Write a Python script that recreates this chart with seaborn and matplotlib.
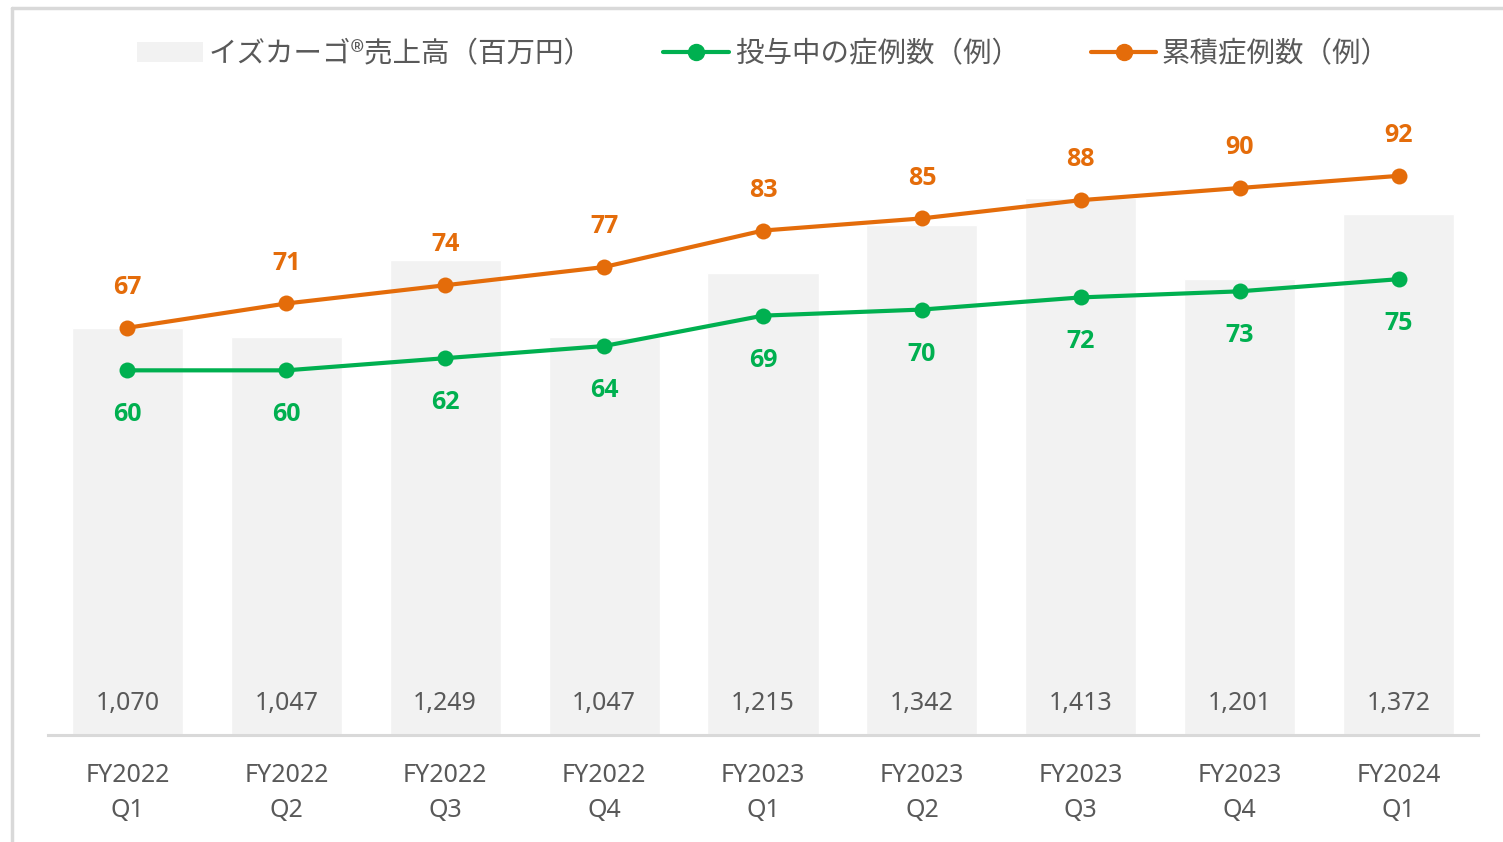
import numpy as np
import pandas as pd
import seaborn as sns
import matplotlib.pyplot as plt
from matplotlib.patches import Patch
from matplotlib.lines import Line2D

# ------------------------------------------------
# Data
# ------------------------------------------------
quarters = ["FY2022\nQ1", "FY2022\nQ2", "FY2022\nQ3", "FY2022\nQ4",
            "FY2023\nQ1", "FY2023\nQ2", "FY2023\nQ3", "FY2023\nQ4",
            "FY2024\nQ1"]
sales = [1070, 1047, 1249, 1047, 1215, 1342, 1413, 1201, 1372]
active_cases = [60, 60, 62, 64, 69, 70, 72, 73, 75]
total_cases = [67, 71, 74, 77, 83, 85, 88, 90, 92]

bar_name = "イズカーゴ®売上高（百万円）"
active_name = "投与中の症例数（例）"
total_name = "累積症例数（例）"

# ------------------------------------------------
# Style
# ------------------------------------------------
sns.set_theme(style="white")
plt.rcParams['font.family'] = ['Noto Sans', 'Noto Sans CJK JP', 'DejaVu Sans']

GRAY_BAR = "#F2F2F2"
TEXT = "#595959"
GREEN = "#00B050"
ORANGE = "#E46C0A"
EDGE = "#D9D9D9"

df = pd.DataFrame({"quarter": quarters, "sales": sales,
                   "active": active_cases, "total": total_cases})

fig = plt.figure(figsize=(15.03, 8.42), dpi=100)
ax = fig.add_axes([48 / 1503, 107 / 842, 1430 / 1503, 626 / 842])

sns.barplot(data=df, x="quarter", y="sales", color=GRAY_BAR, width=0.70,
            saturation=1, ax=ax)
ax.set_ylim(0, 1647)

ax2 = ax.twinx()
sns.lineplot(data=df, x="quarter", y="total", color=ORANGE, lw=3,
             marker="o", markersize=11.5, markeredgewidth=0, ax=ax2)
sns.lineplot(data=df, x="quarter", y="active", color=GREEN, lw=3,
             marker="o", markersize=11.5, markeredgewidth=0, ax=ax2)
ax2.set_ylim(0, 103)
ax.set_xlim(-0.5, 8.5)
ax2.set_xlim(-0.5, 8.5)

# labels
for i, v in enumerate(sales):
    ax.annotate(f"{v:,}", xy=(i, 0), xytext=(0, 23), textcoords="offset points",
                ha="center", va="center", fontsize=18, color=TEXT)
for i, v in enumerate(total_cases):
    ax2.annotate(str(v), xy=(i, v), xytext=(0, 29), textcoords="offset points",
                 ha="center", va="center", fontsize=18, fontweight="bold",
                 family="Open Sans", color=ORANGE)
for i, v in enumerate(active_cases):
    ax2.annotate(str(v), xy=(i, v), xytext=(0, -32), textcoords="offset points",
                 ha="center", va="center", fontsize=18, fontweight="bold",
                 family="Open Sans", color=GREEN)

for a in (ax, ax2):
    a.set_xlabel("")
    a.set_ylabel("")
    a.set_yticks([])
    for s in ("top", "left", "right", "bottom"):
        a.spines[s].set_visible(False)
ax.spines["bottom"].set_visible(True)
ax.spines["bottom"].set_color(EDGE)
ax.spines["bottom"].set_linewidth(2.2)
ax.tick_params(axis="x", length=0, pad=20, labelsize=18, labelcolor=TEXT)
for t in ax.get_xticklabels():
    t.set_linespacing(1.55)

# legend
handles = [Patch(facecolor=GRAY_BAR, edgecolor="none"),
           Line2D([], [], color=GREEN, lw=3, marker="o", markersize=11.5),
           Line2D([], [], color=ORANGE, lw=3, marker="o", markersize=11.5)]
fig.legend(handles, [bar_name, active_name, total_name], loc="center",
           bbox_to_anchor=(0.508, 1 - 54 / 842), ncol=3, frameon=False,
           prop={"family": ["Noto Sans CJK JP", "DejaVu Sans"], "size": 20.5},
           labelcolor=TEXT, handlelength=2.3, handletextpad=0.2,
           columnspacing=2.5)

# outer frame (top / left)
fig.add_artist(Line2D([12 / 1503, 1], [1 - 8 / 842, 1 - 8 / 842],
                      color=EDGE, lw=2.5, transform=fig.transFigure))
fig.add_artist(Line2D([12 / 1503, 12 / 1503], [0, 1 - 8 / 842],
                      color=EDGE, lw=2.5, transform=fig.transFigure))

fig.savefig("out.png", dpi=100)
